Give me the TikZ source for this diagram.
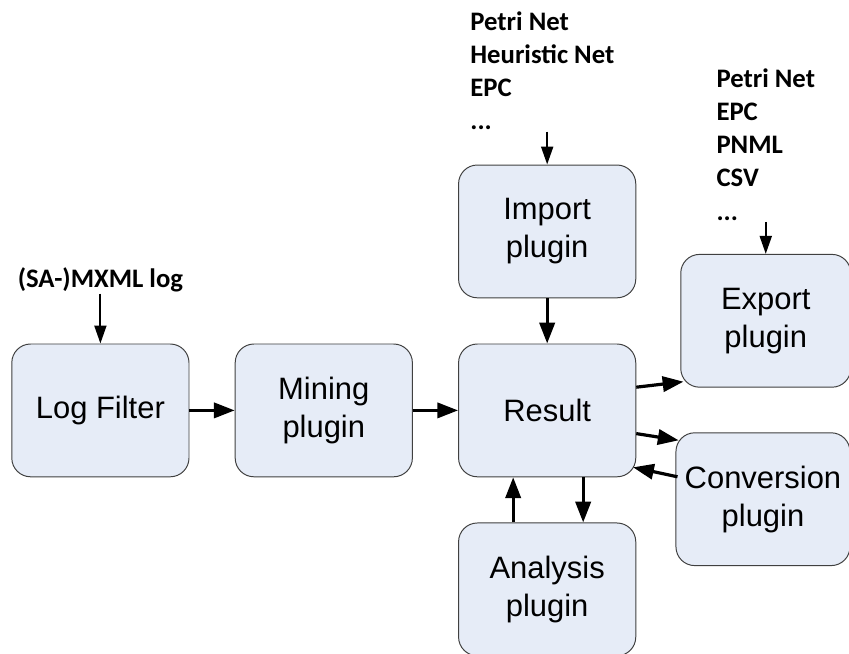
\documentclass[tikz,border=0pt]{standalone}
\usepackage{fontspec}
\setmainfont{Liberation Sans}
\newfontfamily\lblfont{Carlito}
\usetikzlibrary{arrows.meta, positioning}
\definecolor{boxfill}{RGB}{230,236,247}
\definecolor{boxline}{RGB}{64,64,64}

\begin{document}
\begin{tikzpicture}
		[
	elem/.style={draw=boxline,fill=boxfill,rectangle,rounded corners=0.47cm,line width=0.7pt,align=center,minimum width=4.43cm, minimum height=3.32cm,font=\fontsize{22}{27}\selectfont},
	lbl/.style={align=left,inner sep=1pt,font=\lblfont\bfseries\fontsize{19}{23.5}\selectfont},
	flow/.style={-{Triangle[length=0.52cm,width=0.38cm]},line width=0.08cm},
	feed/.style={-{Triangle[length=0.45cm,width=0.3cm]},line width=0.05cm},
	node distance=1.13cm
	]
		\useasboundingbox (0,0) rectangle (21.225,-16.35);
		\node (logf) [elem] at (2.51,-10.26) {Log Filter};
		\node (mine) [elem,right=of logf] {Mining\\plugin};
		\node (res) [elem,right=of mine] {Result};
		\node (imp) [elem,above=of res] {Import\\plugin};
		\node (ana) [elem,below=of res] {Analysis\\plugin};
		\node (exp) [elem,minimum width=4.25cm,right=1.1cm of res,yshift=2.24cm] {Export\\plugin};
		\node (conv) [elem,minimum width=4.35cm,right=0.98cm of res,yshift=-2.22cm] {Conversion\\plugin};
		\node (mxml) [lbl,above=1.25cm of logf] {(SA-)MXML log};
		\node (implbl) [lbl,above=0.82cm of imp,xshift=-0.12cm] {Petri Net\\Heuristic Net\\EPC\\...};
		\node (explbl) [lbl,above=0.8cm of exp] {Petri Net\\EPC\\PNML\\CSV\\...};
	
		\draw [feed] (mxml.south -| logf.north) -- (logf.north);
		\draw [feed] (implbl.south -| imp.north) -- (imp.north);
		\draw [feed] (explbl.south -| exp.north) -- (exp.north);
		\draw [flow] (logf) -- (mine);
		\draw [flow] (mine) -- (res);
		\draw [flow] (imp) -- (res);
		\draw [flow] ([yshift=0.58cm]res.east) -- ([xshift=0.08cm,yshift=0.15cm]exp.south west);
		\draw [flow] ([yshift=-0.58cm]res.east) -- ([xshift=0.08cm,yshift=-0.2cm]conv.north west);
		\draw [flow] ([xshift=0.05cm,yshift=0.56cm]conv.west) -- ([xshift=-0.08cm,yshift=0.25cm]res.south east);
		\draw [flow] ([xshift=-0.85cm]ana.north) -- ([xshift=-0.85cm]res.south);
		\draw [flow] ([xshift=0.9cm]res.south) -- ([xshift=0.9cm]ana.north);
	\end{tikzpicture}
\end{document}
